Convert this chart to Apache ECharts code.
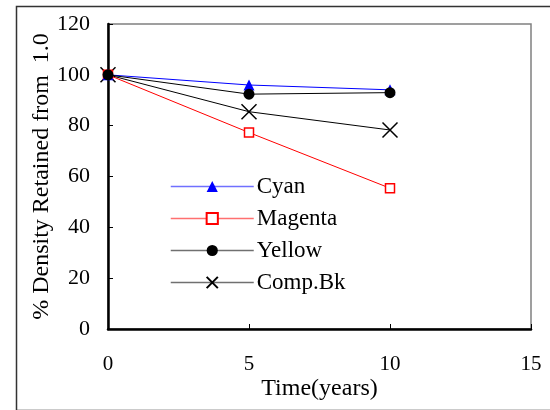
<!DOCTYPE html>
<html><head><meta charset="utf-8">
<script src="https://cdn.jsdelivr.net/npm/echarts@6/dist/echarts.min.js"></script>
<style>html,body{margin:0;padding:0;background:#fff}#c{width:550px;height:410px}</style>
</head><body><div id="c"></div>
<script>
const years = [0, 5, 10];
const cyan = [100, 96.0, 94.1];
const magenta = [100, 77.3, 55.4];
const yellow = [100, 92.4, 93.0];
const compBk = [100, 85.5, 78.3];
const xTicks = [0, 5, 10, 15];
const yTicks = [0, 20, 40, 60, 80, 100, 120];

const FONT = '"Liberation Serif", "Times New Roman", serif';
const pairs = a => years.map((x, i) => [x, a[i]]);
const crossPath = 'path://M0,0L10,10M10,0L0,10';

const chart = echarts.init(document.getElementById('c'), null, {renderer: 'canvas'});
chart.setOption({
  animation: false,
  backgroundColor: '#fff',
  graphic: [{
    type: 'rect', left: 14, top: 4, z: -1,
    shape: {x: 0, y: 0, width: 545, height: 404},
    style: {fill: 'none', stroke: '#333', lineWidth: 1.5}
  }],
  grid: {left: 108, right: 19, top: 24, bottom: 81, show: true, borderColor: '#808080', borderWidth: 1.5, backgroundColor: 'transparent'},
  xAxis: {
    type: 'value', min: 0, max: 15, interval: 5,
    name: 'Time(years)', nameLocation: 'middle', nameGap: 48, nameMoveOverlap: false,
    nameTextStyle: {fontFamily: FONT, fontSize: 24, color: '#000'},
    axisLine: {show: true, onZero: false, lineStyle: {color: '#000', width: 2.5}},
    axisTick: {show: true, inside: true, length: 5, lineStyle: {color: '#000', width: 1}},
    axisLabel: {fontFamily: FONT, fontSize: 21, color: '#000', margin: 25,
      formatter: v => xTicks.includes(v) ? String(v) : ''},
    splitLine: {show: false}
  },
  yAxis: {
    type: 'value', min: 0, max: 120, interval: 20,
    name: '% Density Retained from  1.0', nameLocation: 'middle', nameGap: 54, nameMoveOverlap: false,
    nameTextStyle: {fontFamily: FONT, fontSize: 24, color: '#000'},
    axisLine: {show: true, onZero: false, lineStyle: {color: '#000', width: 2.5}},
    axisTick: {show: true, inside: true, length: 5, lineStyle: {color: '#000', width: 1}},
    axisLabel: {fontFamily: FONT, fontSize: 22, color: '#000', margin: 18,
      formatter: v => yTicks.includes(v) ? String(v) : ''},
    splitLine: {show: false}
  },
  legend: {
    orient: 'vertical', left: 165, top: 170,
    itemWidth: 83, itemHeight: 14, itemGap: 9,
    textStyle: {fontFamily: FONT, fontSize: 23, color: '#000', lineHeight: 23, padding: [0, 0, 0, -2]},
    data: [
      {name: 'Cyan', lineStyle: {color: '#7070ff', width: 1.5}},
      {name: 'Magenta', lineStyle: {color: '#ff7070', width: 1.5}},
      {name: 'Yellow', lineStyle: {color: '#707070', width: 1.5}},
      {name: 'Comp.Bk', lineStyle: {color: '#707070', width: 1.5}}
    ]
  },
  series: [
    {name: 'Comp.Bk', type: 'line', data: pairs(compBk), symbol: crossPath, symbolSize: 15,
      lineStyle: {color: '#000', width: 1}, itemStyle: {color: 'rgba(0,0,0,0)', borderColor: '#000', borderWidth: 1.5}, z: 2},
    {name: 'Magenta', type: 'line', data: pairs(magenta), symbol: 'rect', symbolSize: 9,
      lineStyle: {color: '#ff0000', width: 1}, itemStyle: {color: '#fff', borderColor: '#ff0000', borderWidth: 1.5}, z: 3},
    {name: 'Cyan', type: 'line', data: pairs(cyan), symbol: 'triangle', symbolSize: [11, 11],
      lineStyle: {color: '#0000ff', width: 1}, itemStyle: {color: '#0000ff'}, z: 4},
    {name: 'Yellow', type: 'line', data: pairs(yellow), symbol: 'circle', symbolSize: 11,
      lineStyle: {color: '#000', width: 1}, itemStyle: {color: '#000'}, z: 5}
  ]
});
</script></body></html>
